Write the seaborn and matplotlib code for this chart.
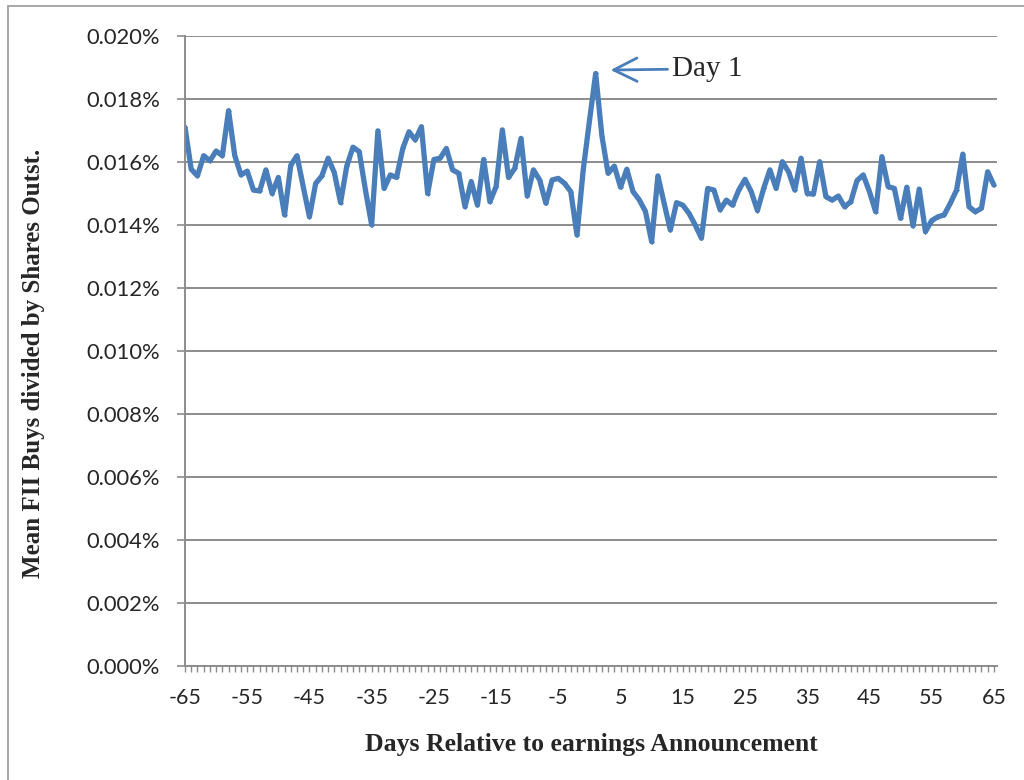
import numpy as np
import pandas as pd
import matplotlib
matplotlib.use("Agg")
import matplotlib.pyplot as plt
from matplotlib.lines import Line2D
from matplotlib.ticker import FuncFormatter, MultipleLocator
import seaborn as sns

days = list(range(-65, 66))
values = [
    0.0171, 0.01577, 0.01556, 0.0162, 0.01604, 0.01635, 0.0162, 0.01763, 0.0162, 0.01559,
    0.01571, 0.01511, 0.01508, 0.01575, 0.0150, 0.01551, 0.01432, 0.0159, 0.0162, 0.01522,
    0.01426, 0.01532, 0.01556, 0.01612, 0.01566, 0.01471, 0.01587, 0.01647, 0.01633, 0.01511,
    0.0140, 0.01699, 0.01516, 0.01559, 0.01551, 0.01643, 0.01696, 0.0167, 0.01712, 0.0150,
    0.01608, 0.01612, 0.01643, 0.01575, 0.01564, 0.01458, 0.01538, 0.01463, 0.01608, 0.01474,
    0.01522, 0.01702, 0.01551, 0.0158, 0.01675, 0.01492, 0.01575, 0.01543, 0.01469, 0.01543,
    0.01548, 0.01532, 0.01506, 0.01368, 0.01575, 0.0173, 0.01881, 0.01683, 0.01564, 0.01587,
    0.0152, 0.01577, 0.01506, 0.0148, 0.01443, 0.01347, 0.01556, 0.01469, 0.01384, 0.01471,
    0.01463, 0.01437, 0.0140, 0.01358, 0.01516, 0.01511, 0.01448, 0.01479, 0.01463, 0.01511,
    0.01545, 0.01506, 0.01446, 0.01516, 0.01575, 0.01516, 0.01601, 0.01569, 0.01511, 0.01612,
    0.0150, 0.01498, 0.01601, 0.0149, 0.01479, 0.01492, 0.01458, 0.01474, 0.01541, 0.01559,
    0.01506, 0.01442, 0.01617, 0.01522, 0.01516, 0.01421, 0.0152, 0.01397, 0.01514, 0.01379,
    0.01414, 0.01426, 0.01432, 0.01469, 0.01511, 0.01625, 0.01458, 0.01442, 0.01453, 0.01569,
    0.01527,
]
x_ticks = list(range(-65, 66, 10))
y_ticks = [0.000, 0.002, 0.004, 0.006, 0.008, 0.010, 0.012, 0.014, 0.016, 0.018, 0.020]
xlabel = "Days Relative to earnings Announcement"
ylabel = "Mean FII Buys divided by Shares Outst."
annot_text = "Day 1"

df = pd.DataFrame({"day": days, "value": values})

sns.set_style("white")
plt.rcParams["font.family"] = ["Lato", "DejaVu Sans"]
plt.rcParams["axes.unicode_minus"] = False

fig = plt.figure(figsize=(10.24, 7.8), dpi=100)
ax = fig.add_axes([185 / 1024, 1 - 666 / 780, 812 / 1024, 630 / 780])

line_color = "#4A7EBB"
sns.lineplot(data=df, x="day", y="value", ax=ax, color=line_color, linewidth=3.8,
             marker="D", markersize=2.5, markeredgewidth=0)

ax.set_xlim(-65, 65.5)
ax.set_ylim(0, 0.020)
ax.set_xticks(x_ticks)
ax.xaxis.set_minor_locator(MultipleLocator(1))
ax.set_yticks(y_ticks)
ax.yaxis.set_major_formatter(FuncFormatter(lambda v, p: f"{v:.3f}%"))

grid_c = "#8C8C8C"
ax.grid(axis="y", color=grid_c, linewidth=1.4)
ax.set_axisbelow(True)
for s in ["top", "right"]:
    ax.spines[s].set_visible(False)
for s in ["left", "bottom"]:
    ax.spines[s].set_color(grid_c)
    ax.spines[s].set_linewidth(1.4)

ax.tick_params(axis="x", which="both", direction="out", length=4.5, width=1.0, color=grid_c,
               labelsize=15.5, pad=11, bottom=True)
ax.tick_params(axis="y", which="major", direction="out", length=6, width=1.2, color=grid_c,
               labelsize=15.8, pad=12, left=True)

serif = ["Liberation Serif", "DejaVu Serif"]
ax.set_xlabel(xlabel, family=serif, fontweight="bold", fontsize=18.5, labelpad=18)
ax.set_ylabel(ylabel, family=serif, fontweight="bold", fontsize=18)
ax.yaxis.set_label_coords(-0.172, 0.48)

ax.annotate(annot_text, xy=(3.4, 0.01892), xytext=(13.3, 0.01896),
            family=serif, fontsize=21, va="center", ha="left",
            arrowprops=dict(arrowstyle="->,head_length=0.8,head_width=0.4", color=line_color,
                            linewidth=2.0, shrinkA=1, shrinkB=0))

border_c = "#9A9A9A"
fig.add_artist(Line2D([8 / 1024, 8 / 1024], [0, 1 - 6 / 780], color=border_c, linewidth=1.2))
fig.add_artist(Line2D([8 / 1024, 1], [1 - 6 / 780, 1 - 6 / 780], color=border_c, linewidth=1.2))

fig.savefig("out.png", dpi=100)
